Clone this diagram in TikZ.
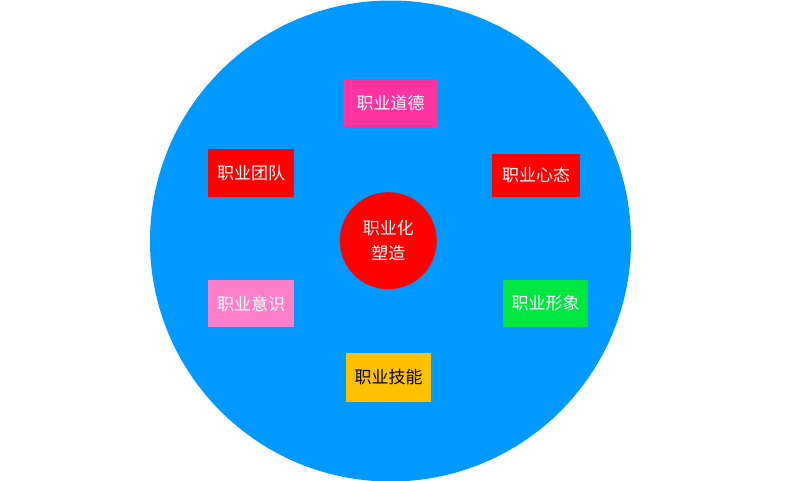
\documentclass[tikz,border=0pt]{standalone}
\usepackage{fontspec}
\newfontfamily\cjk{Noto Sans CJK SC}
\definecolor{bigblue}{RGB}{0,153,255}
\definecolor{hotpink}{RGB}{255,51,160}
\definecolor{lightpink}{RGB}{255,128,200}
\definecolor{brightgreen}{RGB}{0,230,64}
\definecolor{amber}{RGB}{255,192,0}
\begin{document}
\begin{tikzpicture}[x=1pt,y=-1pt,
  tag/.style={rectangle, inner sep=0pt, font=\cjk\fontsize{17}{20}\selectfont, text=white},
]
\useasboundingbox (0,0) rectangle (789,480);
\fill[bigblue] (390.5,241) circle (240.5);
\node[tag, fill=hotpink, minimum width=93, minimum height=47] (daode) at (390.5,103.5) {职业道德};
\node[tag, fill=red, minimum width=86, minimum height=48] (tuandui) at (251,173) {职业团队};
\node[tag, fill=red, minimum width=88, minimum height=43] (xintai) at (536,175.5) {职业心态};
\node[tag, fill=lightpink, minimum width=86, minimum height=47] (yishi) at (251,303.5) {职业意识};
\node[tag, fill=brightgreen, minimum width=85, minimum height=47] (xingxiang) at (545.5,303.5) {职业形象};
\node[tag, fill=amber, text=black, minimum width=85, minimum height=49] (jineng) at (388.5,377.5) {职业技能};
\node[circle, fill=red, minimum size=97, inner sep=0pt, align=center, text=white,
  font=\cjk\fontsize{17}{25}\selectfont] (center) at (388.3,240.7) {职业化\\塑造};
\end{tikzpicture}
\end{document}
